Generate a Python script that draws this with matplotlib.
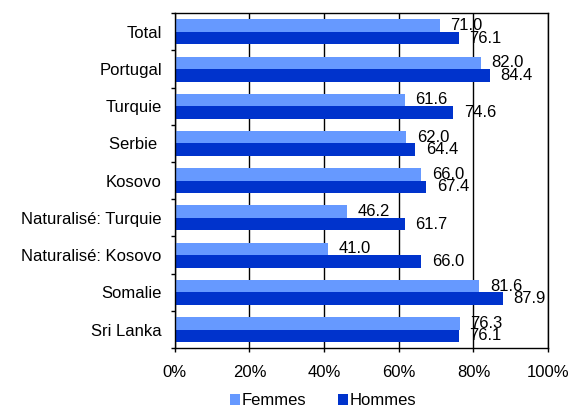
import numpy as np
import matplotlib
matplotlib.use("Agg")
import matplotlib.pyplot as plt

plt.rcParams["font.family"] = ["Liberation Sans", "DejaVu Sans"]

categories = ["Total", "Portugal", "Turquie", "Serbie ", "Kosovo",
              "Naturalisé: Turquie", "Naturalisé: Kosovo", "Somalie", "Sri Lanka"]
femmes = [71.0, 82.0, 61.6, 62.0, 66.0, 46.2, 41.0, 81.6, 76.3]
hommes = [76.1, 84.4, 74.6, 64.4, 67.4, 61.7, 66.0, 87.9, 76.1]

fig = plt.figure(figsize=(5.77, 4.12), dpi=100)
ax = fig.add_axes([0.303, 0.155, 0.647, 0.813])

y = np.arange(len(categories))
h = 0.336
b1 = ax.barh(y - h / 2, femmes, h, color="#6699FF", label="Femmes")
b2 = ax.barh(y + h / 2, hommes, h, color="#0033CC", label="Hommes")

for bars, vals in ((b1, femmes), (b2, hommes)):
    for bar, v in zip(bars, vals):
        ax.annotate(f"{v:.1f}", (bar.get_width(), bar.get_y() + bar.get_height() / 2),
                    xytext=(7.5, 0), textcoords="offset points",
                    ha="left", va="center", fontsize=12, color="black")

ax.set_xlim(0, 100)
ax.set_ylim(len(categories) - 0.5, -0.5)
ax.set_xticks(range(0, 101, 20))
ax.set_xticklabels([f"{t}%" for t in range(0, 101, 20)], fontsize=12)
ax.set_yticks(y)
ax.set_yticklabels(categories, fontsize=12)
ax.set_yticks(np.arange(-0.5, len(categories)), minor=True)
ax.tick_params(axis="y", which="major", length=0, pad=9.4)
ax.tick_params(axis="y", which="minor", length=3, width=1, direction="out")
ax.tick_params(axis="x", length=3, width=1, direction="out", pad=9)
ax.grid(axis="x", color="black", linewidth=1)
ax.set_axisbelow(True)
for s in ax.spines.values():
    s.set_linewidth(1)
    s.set_color("black")

fig.legend(loc="center", bbox_to_anchor=(0.56, 0.027), ncol=2, frameon=False,
           fontsize=12, handlelength=0.6, handleheight=0.7, handletextpad=0.15,
           columnspacing=1.85, borderaxespad=0)

fig.savefig("out.png", dpi=100)
